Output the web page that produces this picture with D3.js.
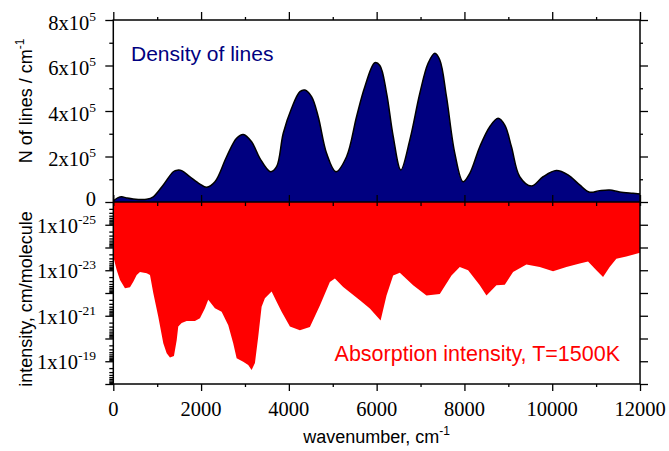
<!DOCTYPE html>
<html>
<head>
<meta charset="utf-8">
<script src="https://cdn.jsdelivr.net/npm/d3@7"></script>
<style>
  body { margin: 0; background: #fff; }
</style>
</head>
<body>
<div id="chart"></div>
<script>
// density of lines (upper panel)
const densityWavenumber = [0, 100, 191, 300, 455, 760, 911, 1139, 1367, 1460, 1557, 1746, 1974, 2126, 2316,
  2581, 2809, 2961, 3151, 3340, 3584, 3720, 3872, 4062, 4252, 4365, 4517, 4669, 4859, 5071, 5314, 5542,
  5731, 5959, 6073, 6225, 6376, 6551, 6756, 6984, 7172, 7325, 7439, 7591, 7781, 7970, 8122, 8350, 8577,
  8767, 8919, 9071, 9260, 9526, 9791, 10094, 10360, 10626, 10854, 11082, 11309, 11537, 11840, 12000];
const densityLines = [5000, 18000, 23000, 18000, 13000, 12000, 23000, 75000, 133000, 140000, 138000, 111000,
  79000, 65000, 89000, 199000, 280000, 297000, 265000, 192000, 133000, 155000, 302000, 412000, 485000,
  492000, 463000, 375000, 214000, 133000, 199000, 375000, 507000, 612000, 600000, 480000, 290000, 141000,
  273000, 478000, 610000, 654000, 624000, 463000, 214000, 89000, 126000, 243000, 331000, 368000, 338000,
  243000, 111000, 70000, 111000, 138000, 119000, 75000, 43000, 50000, 53000, 44000, 38000, 35000];

// absorption intensity (lower panel), lower envelope of the stick spectrum
const intensityWavenumber = [0, 77, 153, 266, 380, 455, 533, 608, 761, 836, 911, 1025, 1139, 1216, 1291,
  1382, 1444, 1480, 1557, 1671, 1860, 1974, 2088, 2163, 2316, 2468, 2619, 2732, 2810, 2960, 3074, 3151,
  3227, 3302, 3379, 3454, 3607, 3721, 3835, 4024, 4251, 4479, 4707, 4934, 5048, 5238, 5618, 5845, 6090,
  6225, 6376, 6528, 6831, 7135, 7439, 7705, 7894, 8084, 8350, 8502, 8729, 8919, 9108, 9412, 9716, 10019,
  10323, 10626, 10816, 11006, 11158, 11309, 11461, 11689, 12000];
const intensityValue = [2.5e-24, 9.8e-24, 2.7e-23, 6.2e-23, 5.6e-23, 3.2e-23, 1.6e-23, 1.2e-23, 1.35e-23,
  1.6e-23, 1.0e-22, 1.1e-21, 1.6e-20, 4.5e-20, 6.8e-20, 5.9e-20, 1.2e-20, 3.0e-21, 2.1e-21, 1.7e-21,
  1.7e-21, 1.3e-21, 4.7e-22, 2.0e-22, 4.7e-22, 6.6e-22, 2.6e-21, 1.6e-20, 7.4e-20, 1.05e-19, 1.45e-19,
  2.4e-19, 1.2e-19, 8.3e-21, 4.0e-22, 1.7e-22, 8.7e-23, 2.4e-22, 6.6e-22, 3.0e-21, 4.3e-21, 3.1e-21,
  3.5e-22, 3.3e-23, 2.3e-23, 5.5e-23, 2.1e-22, 4.8e-22, 1.6e-21, 1.3e-22, 1.7e-23, 1.3e-23, 4.6e-23,
  1.3e-22, 1.1e-22, 1.7e-23, 7.2e-24, 1.0e-23, 4.6e-23, 1.3e-22, 4.6e-23, 4.3e-23, 1.2e-23, 5.6e-24,
  7.2e-24, 1.1e-23, 7.2e-24, 5.1e-24, 4.1e-24, 1.0e-23, 2.0e-23, 7.2e-24, 3.1e-24, 2.5e-24, 1.7e-24];

const xTicks = [0, 2000, 4000, 6000, 8000, 10000, 12000];
const densityTicks = [0, 200000, 400000, 600000, 800000];
const densityTickBase = ["0", "2x10", "4x10", "6x10", "8x10"];
const densityTickExp = ["", "5", "5", "5", "5"];
const intensityTicks = [1e-25, 1e-23, 1e-21, 1e-19];
const intensityTickBase = ["1x10", "1x10", "1x10", "1x10"];
const intensityTickExp = ["-25", "-23", "-21", "-19"];

const width = 669, height = 451;
const pLeft = 113.3, pRight = 640, pTop = 20, pMid = 202, pBottom = 384;

const svg = d3.select("#chart").append("svg")
  .attr("width", width)
  .attr("height", height)
  .style("font-family", "'Liberation Serif', 'Times New Roman', serif");

const x = d3.scaleLinear().domain([0, 12000]).range([pLeft, pRight]);
const yTop = d3.scaleLinear().domain([0, 800000]).range([pMid, pTop]);
// reversed log axis: strong lines go down
const yBot = d3.scaleLog().domain([1e-26, 1e-18]).range([pMid, pBottom]);

const density = densityWavenumber.map((w, i) => [w, densityLines[i]]);
const intensity = intensityWavenumber.map((w, i) => [w, intensityValue[i]]);

// red area, lower panel
svg.append("path")
  .datum(intensity)
  .attr("fill", "#ff0000")
  .attr("d", d3.area()
    .x(d => x(d[0]))
    .y0(pMid)
    .y1(d => yBot(d[1])));

// navy area, upper panel
const smooth = d3.curveCatmullRom.alpha(0.5);
svg.append("path")
  .datum(density)
  .attr("fill", "#000080")
  .attr("d", d3.area()
    .curve(smooth)
    .x(d => x(d[0]))
    .y0(pMid)
    .y1(d => yTop(d[1])));

svg.append("path")
  .datum(density)
  .attr("fill", "none")
  .attr("stroke", "#000")
  .attr("stroke-width", 1.5)
  .attr("d", d3.line()
    .curve(smooth)
    .x(d => x(d[0]))
    .y(d => yTop(d[1])));

// axes (tick marks only, labels added by hand because of the superscripts)
function ticksOnly(axis, g) {
  g.call(axis.tickFormat(""));
  g.select(".domain").remove();
  g.selectAll("line").attr("stroke", "#000").attr("stroke-width", 1.3);
}

const xMinor = d3.range(1000, 12000, 2000);

// top edge
ticksOnly(d3.axisTop(x).tickValues(xTicks).tickSize(8), svg.append("g").attr("transform", `translate(0,${pTop})`));
ticksOnly(d3.axisTop(x).tickValues(xMinor).tickSize(3), svg.append("g").attr("transform", `translate(0,${pTop})`));
// middle line
ticksOnly(d3.axisTop(x).tickValues(xTicks).tickSize(7), svg.append("g").attr("transform", `translate(0,${pMid})`));
ticksOnly(d3.axisBottom(x).tickValues(xTicks.concat(xMinor)).tickSize(4), svg.append("g").attr("transform", `translate(0,${pMid})`));
// bottom edge
ticksOnly(d3.axisBottom(x).tickValues(xTicks).tickSize(7), svg.append("g").attr("transform", `translate(0,${pBottom})`));
ticksOnly(d3.axisBottom(x).tickValues(xMinor).tickSize(3), svg.append("g").attr("transform", `translate(0,${pBottom})`));

// upper panel left / right
const densityMinor = [100000, 300000, 500000, 700000];
ticksOnly(d3.axisLeft(yTop).tickValues(densityTicks).tickSize(8), svg.append("g").attr("transform", `translate(${pLeft},0)`));
ticksOnly(d3.axisLeft(yTop).tickValues(densityMinor).tickSize(4), svg.append("g").attr("transform", `translate(${pLeft},0)`));
ticksOnly(d3.axisRight(yTop).tickValues(densityTicks).tickSize(8), svg.append("g").attr("transform", `translate(${pRight},0)`));
ticksOnly(d3.axisRight(yTop).tickValues(densityMinor).tickSize(3), svg.append("g").attr("transform", `translate(${pRight},0)`));

// lower panel left / right
const decades = d3.range(-25, -17).map(e => Math.pow(10, e));
const logMinor = [];
d3.range(-26, -18).forEach(e => { for (let k = 2; k <= 9; k++) logMinor.push(k * Math.pow(10, e)); });
ticksOnly(d3.axisLeft(yBot).tickValues(decades).tickSize(8), svg.append("g").attr("transform", `translate(${pLeft},0)`));
ticksOnly(d3.axisLeft(yBot).tickValues(logMinor).tickSize(4), svg.append("g").attr("transform", `translate(${pLeft},0)`));
ticksOnly(d3.axisRight(yBot).tickValues(decades).tickSize(8), svg.append("g").attr("transform", `translate(${pRight},0)`));

// frame and the shared middle axis
svg.append("rect")
  .attr("x", pLeft).attr("y", pTop)
  .attr("width", pRight - pLeft).attr("height", pBottom - pTop)
  .attr("fill", "none").attr("stroke", "#000").attr("stroke-width", 1.5);
svg.append("line")
  .attr("x1", pLeft).attr("x2", pRight).attr("y1", pMid).attr("y2", pMid)
  .attr("stroke", "#000").attr("stroke-width", 1.5);

// tick labels
svg.append("g").selectAll("text")
  .data(xTicks).enter().append("text")
  .attr("x", d => x(d))
  .attr("y", pBottom + 32)
  .attr("text-anchor", "middle")
  .attr("font-size", 20.5)
  .text(d => d);

const topLabels = svg.append("g").selectAll("text")
  .data(densityTicks).enter().append("text")
  .attr("x", 96)
  .attr("y", (d, i) => yTop(d) + (densityTickExp[i] ? 9.5 : 4))
  .attr("text-anchor", "end")
  .attr("font-size", 20.5);
topLabels.append("tspan").text((d, i) => densityTickBase[i]);
topLabels.append("tspan")
  .attr("dy", -9).attr("font-size", 13.5)
  .text((d, i) => densityTickExp[i]);

const botLabels = svg.append("g").selectAll("text")
  .data(intensityTicks).enter().append("text")
  .attr("x", 96)
  .attr("y", d => yBot(d) + 8)
  .attr("text-anchor", "end")
  .attr("font-size", 20.5);
botLabels.append("tspan").text((d, i) => intensityTickBase[i]);
botLabels.append("tspan")
  .attr("dy", -9).attr("font-size", 13.5)
  .text((d, i) => intensityTickExp[i]);

// axis titles
const sans = "'Liberation Sans', Arial, sans-serif";

const xTitle = svg.append("text")
  .attr("x", (pLeft + pRight) / 2)
  .attr("y", 443)
  .attr("text-anchor", "middle")
  .attr("font-family", sans)
  .attr("font-size", 18);
xTitle.append("tspan").text("wavenumber, cm");
xTitle.append("tspan").attr("dy", -8).attr("font-size", 12).text("-1");

const yTitleTop = svg.append("text")
  .attr("transform", "translate(32,101) rotate(-90)")
  .attr("text-anchor", "middle")
  .attr("font-family", sans)
  .attr("font-size", 18);
yTitleTop.append("tspan").text("N of lines / cm");
yTitleTop.append("tspan").attr("dy", -8).attr("font-size", 12).text("-1");

svg.append("text")
  .attr("transform", "translate(32,299) rotate(-90)")
  .attr("text-anchor", "middle")
  .attr("font-family", sans)
  .attr("font-size", 18)
  .text("intensity, cm/molecule");

// panel captions
svg.append("text")
  .attr("x", 131)
  .attr("y", 61)
  .attr("font-family", sans)
  .attr("font-size", 21)
  .attr("fill", "#000080")
  .text("Density of lines");

svg.append("text")
  .attr("x", 620)
  .attr("y", 361)
  .attr("text-anchor", "end")
  .attr("font-family", sans)
  .attr("font-size", 21.5)
  .attr("fill", "#ff0000")
  .text("Absorption intensity, T=1500K");
</script>
</body>
</html>
